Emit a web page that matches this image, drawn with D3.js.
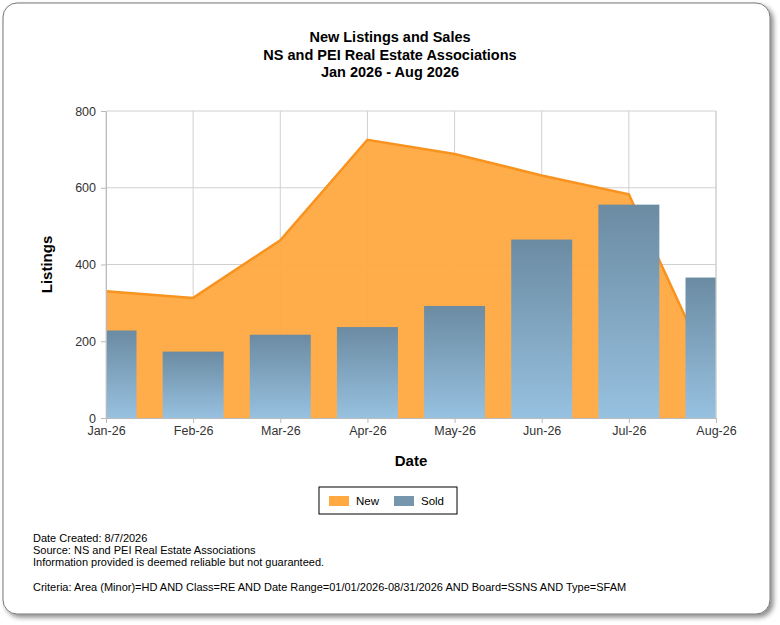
<!DOCTYPE html>
<html>
<head>
<meta charset="utf-8">
<script src="https://cdn.jsdelivr.net/npm/d3@7"></script>
<style>
  body { margin: 0; background: #fff; font-family: "Liberation Sans", Arial, sans-serif; }
</style>
</head>
<body>
<svg id="chart" width="780" height="625"></svg>
<script>
const months = ["Jan-26", "Feb-26", "Mar-26", "Apr-26", "May-26", "Jun-26", "Jul-26", "Aug-26"];
const newListings = [330, 313, 463, 725, 688, 632, 583, 90];
const sold = [228, 173, 217, 237, 292, 465, 556, 366];
const yTicks = [0, 200, 400, 600, 800];
const titleLines = ["New Listings and Sales", "NS and PEI Real Estate Associations", "Jan 2026 - Aug 2026"];
const footerLines = ["Date Created: 8/7/2026", "Source: NS and PEI Real Estate Associations",
  "Information provided is deemed reliable but not guaranteed."];
const criteria = "Criteria: Area (Minor)=HD AND Class=RE AND Date Range=01/01/2026-08/31/2026 AND Board=SSNS AND Type=SFAM";

const svg = d3.select("#chart");
const defs = svg.append("defs");

// frame shadow + frame
const shadow = defs.append("filter").attr("id", "shadow").attr("x", "-5%").attr("y", "-5%").attr("width", "110%").attr("height", "110%");
shadow.append("feDropShadow").attr("dx", 3).attr("dy", 3).attr("stdDeviation", 2.5).attr("flood-color", "#000").attr("flood-opacity", 0.45);
svg.append("rect").attr("x", 3).attr("y", 3).attr("width", 767).attr("height", 611)
  .attr("rx", 14).attr("fill", "#fff").attr("stroke", "#777").attr("stroke-width", 1)
  .attr("filter", "url(#shadow)");

// titles
svg.selectAll(".title").data(titleLines).join("text")
  .attr("x", 390).attr("y", (d, i) => 42 + i * 17.5)
  .attr("text-anchor", "middle").attr("font-size", 14.5).attr("font-weight", "bold").text(d => d);

const pLeft = 106, pRight = 716, pTop = 111, pBottom = 418;
const x = d3.scalePoint().domain(months).range([pLeft, pRight]);
const y = d3.scaleLinear().domain([0, 800]).range([pBottom, pTop]);
const step = x.step();

const g = svg.append("g");

// grid
g.selectAll(".hg").data(yTicks).join("line")
  .attr("x1", pLeft).attr("x2", pRight).attr("y1", d => y(d)).attr("y2", d => y(d))
  .attr("stroke", "#d0d0d0");
g.selectAll(".vg").data(months).join("line")
  .attr("x1", d => x(d)).attr("x2", d => x(d)).attr("y1", pTop).attr("y2", pBottom)
  .attr("stroke", "#d0d0d0");

defs.append("clipPath").attr("id", "plot").append("rect")
  .attr("x", pLeft).attr("y", pTop).attr("width", pRight - pLeft).attr("height", pBottom - pTop);
const plot = g.append("g").attr("clip-path", "url(#plot)");

// area for new listings
const area = d3.area().x((d, i) => x(months[i])).y0(pBottom).y1(d => y(d));
const line = d3.line().x((d, i) => x(months[i])).y(d => y(d));
plot.append("path").datum(newListings).attr("d", area).attr("fill", "#ffa940").attr("fill-opacity", 0.95);
plot.append("path").datum(newListings).attr("d", line).attr("fill", "none").attr("stroke", "#f7931e").attr("stroke-width", 2.5);

// bars
const grad = defs.append("linearGradient").attr("id", "barGrad").attr("x1", 0).attr("y1", 0).attr("x2", 0).attr("y2", 1);
grad.append("stop").attr("offset", "0%").attr("stop-color", "#6b8ba2");
grad.append("stop").attr("offset", "100%").attr("stop-color", "#97c1e0");
const bw = step * 0.7;
plot.selectAll(".bar").data(sold).join("rect")
  .attr("x", (d, i) => x(months[i]) - bw / 2).attr("width", bw)
  .attr("y", d => y(d)).attr("height", d => pBottom - y(d))
  .attr("fill", "url(#barGrad)");

// axes
const yAxis = g.append("g").attr("transform", `translate(${pLeft},0)`)
  .call(d3.axisLeft(y).tickValues(yTicks).tickSize(5).tickSizeOuter(0));
const xAxis = g.append("g").attr("transform", `translate(0,${pBottom})`)
  .call(d3.axisBottom(x).tickSize(5).tickSizeOuter(0));
[yAxis, xAxis].forEach(a => {
  a.select(".domain").attr("stroke", "#bbb");
  a.selectAll(".tick line").attr("stroke", "#bbb");
  a.selectAll("text").attr("font-size", 12.5).attr("fill", "#333").attr("font-family", "Liberation Sans, Arial");
});
yAxis.selectAll("text").attr("x", -10);
g.append("line").attr("x1", pRight).attr("x2", pRight).attr("y1", pTop).attr("y2", pBottom).attr("stroke", "#d0d0d0");

svg.append("text").attr("transform", `translate(52,${(pTop + pBottom) / 2}) rotate(-90)`)
  .attr("text-anchor", "middle").attr("font-size", 15).attr("font-weight", "bold").text("Listings");
svg.append("text").attr("x", 411).attr("y", 466).attr("text-anchor", "middle")
  .attr("font-size", 15).attr("font-weight", "bold").text("Date");

// legend
const lg = svg.append("g");
lg.append("rect").attr("x", 319).attr("y", 487).attr("width", 138).attr("height", 27)
  .attr("fill", "#fff").attr("stroke", "#000");
const legendItems = [{ name: "New", color: "#ffa940", x: 329 }, { name: "Sold", color: "#7696ae", x: 394 }];
legendItems.forEach(it => {
  lg.append("rect").attr("x", it.x).attr("y", 496).attr("width", 20).attr("height", 10).attr("fill", it.color);
  lg.append("text").attr("x", it.x + 27).attr("y", 505).attr("font-size", 11.5).text(it.name);
});

// footer
svg.selectAll(".foot").data(footerLines).join("text")
  .attr("x", 33).attr("y", (d, i) => 542 + i * 12).attr("font-size", 11).text(d => d);
svg.append("text").attr("x", 33).attr("y", 591).attr("font-size", 11).text(criteria);
</script>
</body>
</html>
